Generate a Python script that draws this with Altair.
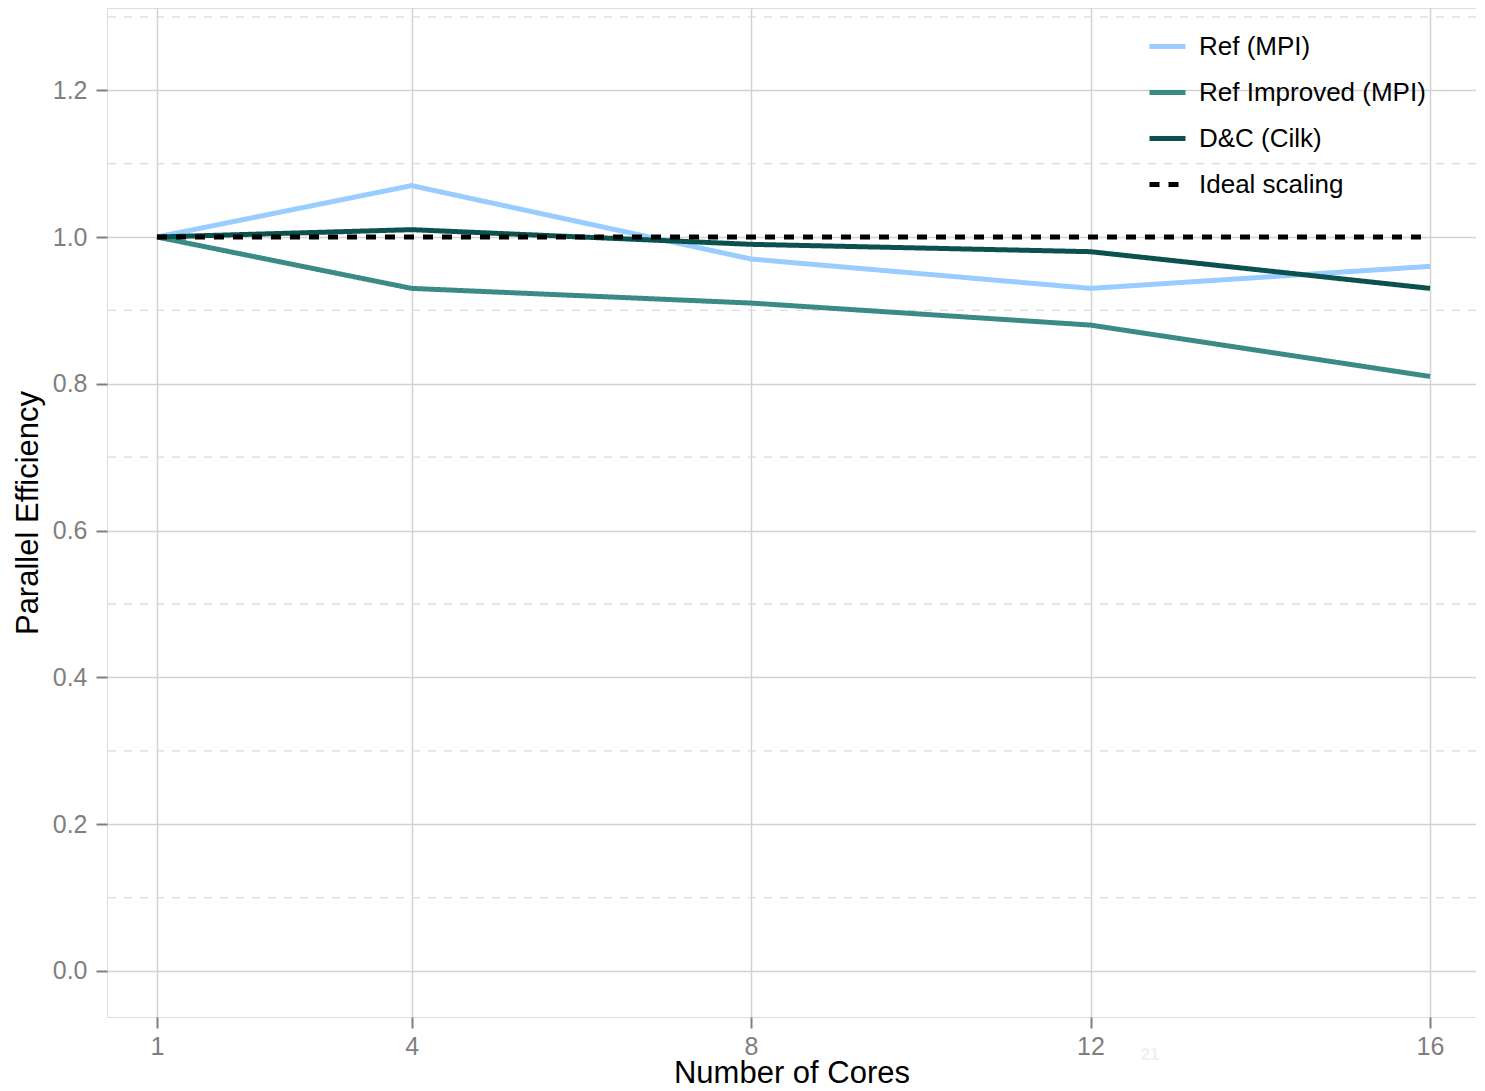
import altair as alt
import pandas as pd

cores = [1, 4, 8, 12, 16]
ref_mpi = [1.0, 1.07, 0.97, 0.93, 0.96]
ref_improved = [1.0, 0.93, 0.91, 0.88, 0.81]
dc_cilk = [1.0, 1.01, 0.99, 0.98, 0.93]
ideal = [1.0, 1.0, 1.0, 1.0, 1.0]

series_names = ["Ref (MPI)", "Ref Improved (MPI)", "D&C (Cilk)", "Ideal scaling"]
series_colors = ["#99CCFF", "#3A8A86", "#0B524F", "#000000"]
series_dash = [[1, 0], [1, 0], [1, 0], [10, 9]]
series_width = [5, 5, 5, 2.3]

y_ticks = [0.0, 0.2, 0.4, 0.6, 0.8, 1.0, 1.2]
y_minor = [0.1, 0.3, 0.5, 0.7, 0.9, 1.1, 1.3]

rows = []
for name, vals in zip(series_names, [ref_mpi, ref_improved, dc_cilk, ideal]):
    for c, v in zip(cores, vals):
        rows.append({"cores": c, "eff": v, "series": name})
df = pd.DataFrame(rows)

FONT = "Liberation Sans"

xscale = alt.Scale(domain=[0.411, 16.542], nice=False, zero=False)
yscale = alt.Scale(domain=[-0.0627, 1.312], nice=False, zero=False)


def legend():
    return alt.Legend(title=None, orient="none", legendX=1040, legendY=18,
                      symbolType="stroke", symbolSize=1296, labelFontSize=26,
                      labelFont=FONT, labelColor="#000000", labelOffset=11,
                      rowPadding=12, padding=0, labelLimit=400)


color = alt.Color("series:N", scale=alt.Scale(domain=series_names, range=series_colors),
                  legend=legend())
dash = alt.StrokeDash("series:N", scale=alt.Scale(domain=series_names, range=series_dash),
                      legend=legend())
swidth = alt.StrokeWidth("series:N", scale=alt.Scale(domain=series_names, range=series_width),
                         legend=legend())

xaxis = alt.Axis(values=cores, format="d", title="Number of Cores", labelFontSize=25,
                 labelColor="#7f7f7f", labelFont=FONT, tickColor="#7f7f7f", tickWidth=2,
                 tickSize=11, labelPadding=6, domain=False, grid=True, gridColor="#d2d2d2",
                 gridWidth=1.5, titleFont=FONT, titleFontSize=31, titleFontWeight="normal",
                 titleColor="#000000", titleY=65, titleBaseline="alphabetic")
yaxis = alt.Axis(values=y_ticks, format=".1f", title="Parallel Efficiency", labelFontSize=25,
                 labelColor="#7f7f7f", labelFont=FONT, tickColor="#7f7f7f", tickWidth=2,
                 tickSize=11, labelPadding=9, domain=False, grid=True, gridColor="#d2d2d2",
                 gridWidth=1.5, titleFont=FONT, titleFontSize=31, titleFontWeight="normal",
                 titleColor="#000000", titleX=-70, titleY=504.5, titleAngle=270,
                 titleAlign="center", titleBaseline="alphabetic")

minor = alt.Chart(pd.DataFrame({"y": y_minor})).mark_rule(
    color="#dcdcdc", strokeWidth=1.3, strokeDash=[8, 8]
).encode(y=alt.Y("y:Q", scale=yscale, axis=yaxis))

base = alt.Chart(df)
lines = base.transform_filter(alt.datum.series != "Ideal scaling").mark_line().encode(
    x=alt.X("cores:Q", scale=xscale, axis=xaxis),
    y=alt.Y("eff:Q", scale=yscale, axis=yaxis),
    color=color, strokeDash=dash, strokeWidth=swidth,
    detail="series:N",
)
ideal_line = base.transform_filter(alt.datum.series == "Ideal scaling").mark_line().encode(
    x=alt.X("cores:Q", scale=xscale, axis=xaxis),
    y=alt.Y("eff:Q", scale=yscale, axis=yaxis),
    color=color, strokeDash=dash, strokeWidth=swidth,
)

page_note = alt.Chart(pd.DataFrame({"x": [12.7], "y": [-0.114], "t": ["21"]})).mark_text(
    color="#efefef", fontSize=16, fontWeight="bold", font=FONT, align="center", baseline="middle"
).encode(x=alt.X("x:Q", scale=xscale, axis=xaxis), y=alt.Y("y:Q", scale=yscale, axis=yaxis),
         text="t:N")

chart = alt.layer(minor, lines, ideal_line, page_note).properties(
    width=1369, height=1009,
    autosize=alt.AutoSizeParams(type="none"),
    padding={"left": 99, "top": 0, "right": 0, "bottom": 66},
).configure_view(stroke="#c8c8c8", strokeWidth=1.5).configure(background="#ffffff")

chart.save("out.html", embed_options={"renderer": "svg", "actions": False})
